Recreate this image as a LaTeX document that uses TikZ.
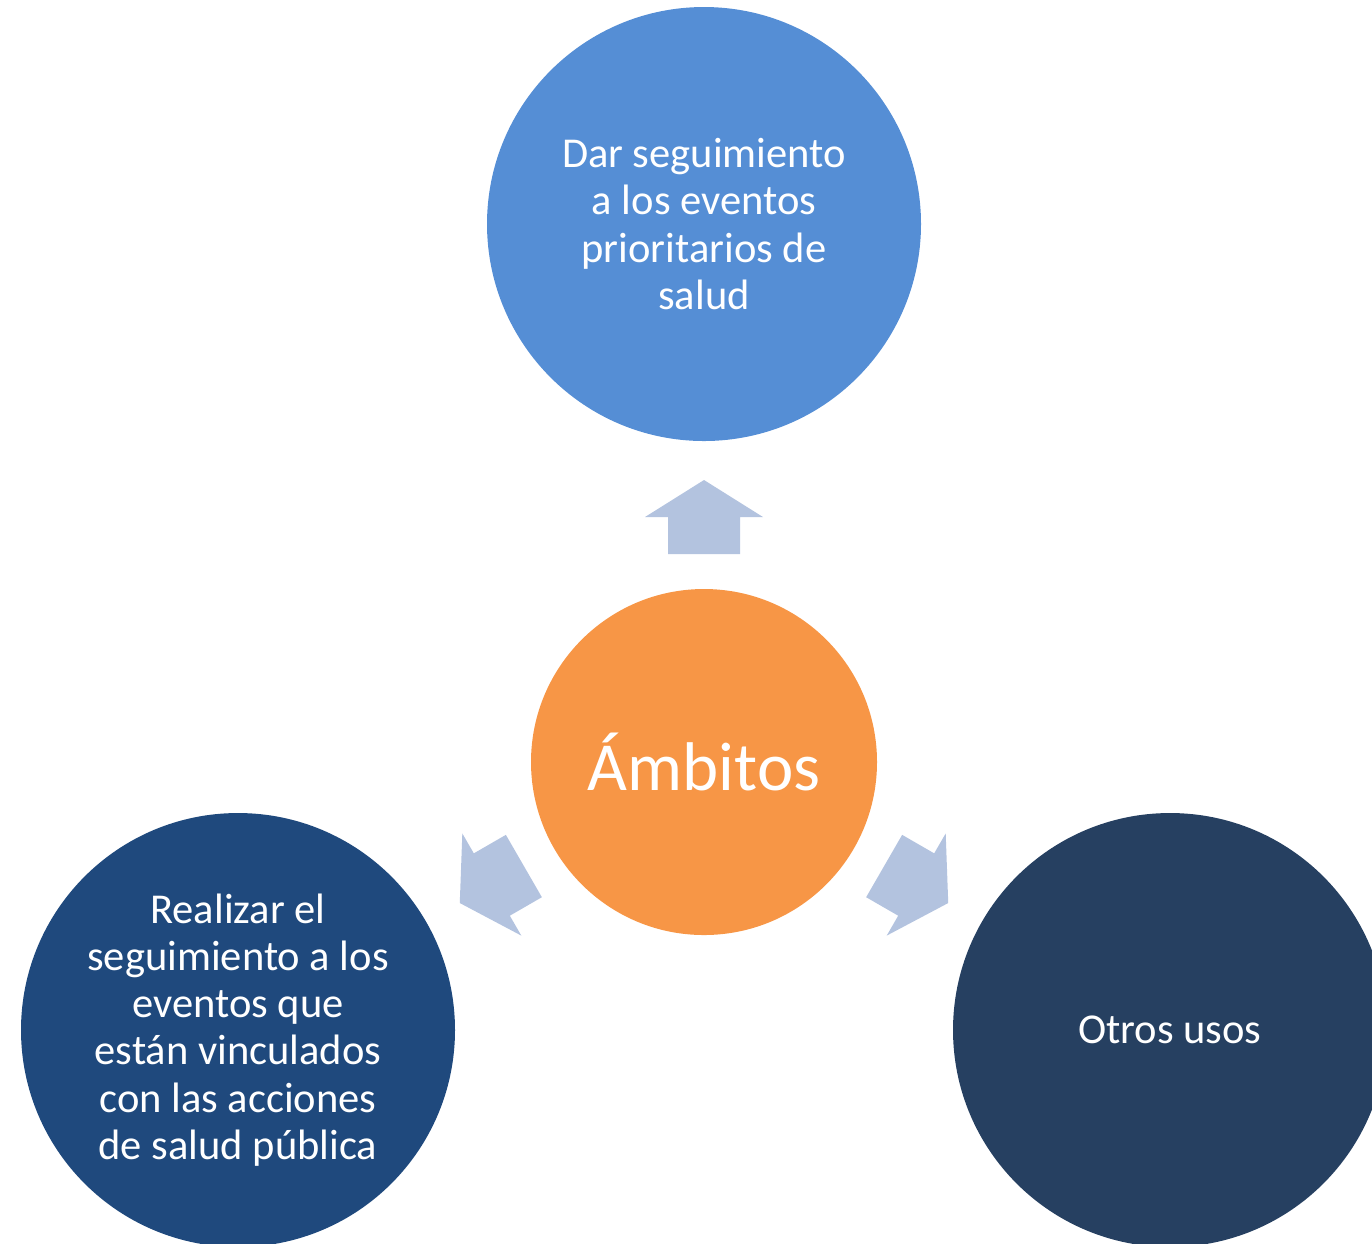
\documentclass[tikz,border=0pt]{standalone}
\usepackage{fontspec}
\setmainfont{Carlito}
\usepackage{tikz}

\definecolor{topblue}{RGB}{85,142,213}
\definecolor{midorange}{RGB}{247,150,70}
\definecolor{leftblue}{RGB}{31,73,125}
\definecolor{rightblue}{RGB}{38,64,97}
\definecolor{arrowgray}{RGB}{179,195,223}

\tikzset{
  bigcircle/.style={circle,minimum size=4.34cm,inner sep=0pt,text=white,align=center,
    font=\fontsize{12.1}{13.4}\selectfont},
  hubcircle/.style={circle,minimum size=3.46cm,inner sep=0pt,fill=midorange,text=white,
    font=\fontsize{19.6}{23}\selectfont},
  blockarrow/.style={fill=arrowgray}
}

\begin{document}
\begin{tikzpicture}
\useasboundingbox (0,0) rectangle (13.72,-12.43);
\node[hubcircle] (amb) at (7.04,-7.62) {Ámbitos};
\node[bigcircle,fill=topblue] (dar) at (7.04,-2.24) {Dar seguimiento\\a los eventos\\prioritarios de\\salud};
\node[bigcircle,fill=leftblue] (real) at (2.38,-10.30) {Realizar el\\seguimiento a los\\eventos que\\están vinculados\\con las acciones\\de salud pública};
\node[bigcircle,fill=rightblue] (otros) at (11.70,-10.30) {Otros usos};
% block arrows from the hub
\foreach \a in {90,210,330}
  \fill[blockarrow,shift={(amb.center)},rotate=\a]
    (2.08,-0.36) -- (2.45,-0.36) -- (2.45,-0.59) -- (2.82,0)
    -- (2.45,0.59) -- (2.45,0.36) -- (2.08,0.36) -- cycle;
\end{tikzpicture}
\end{document}
